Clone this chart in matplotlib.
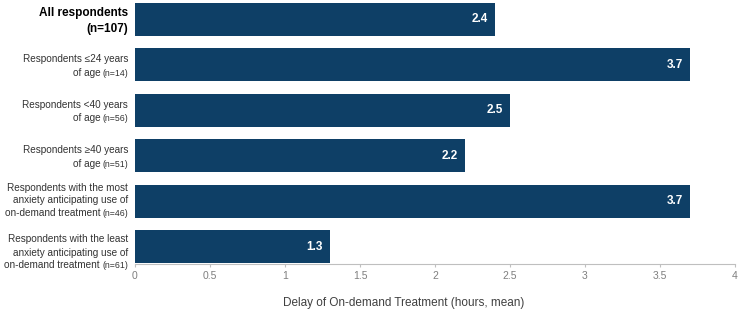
import matplotlib
matplotlib.use("Agg")
import matplotlib.pyplot as plt

plt.rcParams['font.family'] = ['Liberation Sans', 'DejaVu Sans']

label_lines = [
    ["All respondents"],
    ["Respondents ≤24 years", "of age"],
    ["Respondents <40 years", "of age"],
    ["Respondents ≥40 years", "of age"],
    ["Respondents with the most", "anxiety anticipating use of", "on-demand treatment"],
    ["Respondents with the least", "anxiety anticipating use of", "on-demand treatment"],
]
n_labels = ["(n=107)", "(n=14)", "(n=56)", "(n=51)", "(n=46)", "(n=61)"]
values = [2.4, 3.7, 2.5, 2.2, 3.7, 1.3]
xticks = [0, 0.5, 1, 1.5, 2, 2.5, 3, 3.5, 4]
xtick_labels = ["0", "0.5", "1", "1.5", "2", "2.5", "3", "3.5", "4"]
xlabel = "Delay of On-demand Treatment (hours, mean)"

# vertical baseline offsets (points) of each label's lines, relative to bar centre
line_offsets = [
    [2.5, -9],
    [1.9, -8.1],
    [1.9, -8.1],
    [1.9, -8.1],
    [7.6, -1.4, -10.8],
    [3.2, -6.6, -15.5],
]

bar_color = "#0E3F66"
grey = "#7F7F7F"
text_col = "#333333"

fig = plt.figure(figsize=(7.44, 3.14), dpi=100)
ax = fig.add_axes([135/744, 1 - 264/314, 600/744, 264/314])

pos = list(range(len(values)))
ax.barh(pos, values, height=0.72, color=bar_color)
ax.set_xlim(0, 4)
ax.set_ylim(5.38, -0.42)
ax.set_xticks(xticks)
ax.set_xticklabels(xtick_labels, fontsize=7.5, color=grey)
ax.set_yticks([])
for s in ["top", "right", "left"]:
    ax.spines[s].set_visible(False)
ax.spines["bottom"].set_color("#BFBFBF")
ax.tick_params(axis="x", length=2.5, color="#BFBFBF", pad=2.5)
ax.set_xlabel(xlabel, fontsize=8.5, color="#404040", labelpad=11)
ax.xaxis.set_label_coords((404 - 135) / 600, -0.1, transform=ax.transAxes)
ax.xaxis.label.set_va("center")
ax.xaxis.set_label_coords((404 - 135) / 600, -(303 - 264) / 264)

for p, v in zip(pos, values):
    ax.annotate(f"{v:.1f}", xy=(v, p), xycoords="data", xytext=(-5, 0),
                textcoords="offset points", ha="right", va="center",
                color="white", fontsize=8.5, fontweight="bold")

ytr = ax.get_yaxis_transform()
main_fs = 7.2
n_fs = 6.3
for p, lines, n, offs in zip(pos, label_lines, n_labels, line_offsets):
    if p == 0:
        ax.annotate(lines[0], xy=(0, p), xycoords=ytr, xytext=(-5, offs[0]),
                    textcoords="offset points", ha="right", va="baseline",
                    fontsize=8.5, fontweight="bold", color="#000000")
        ax.annotate(n, xy=(0, p), xycoords=ytr, xytext=(-5, offs[1]),
                    textcoords="offset points", ha="right", va="baseline",
                    fontsize=8.5, fontweight="bold", color="#000000")
        continue
    for line, off in zip(lines[:-1], offs[:-1]):
        ax.annotate(line, xy=(0, p), xycoords=ytr, xytext=(-5, off),
                    textcoords="offset points", ha="right", va="baseline",
                    fontsize=main_fs, color=text_col)
    n_art = ax.annotate(n, xy=(0, p), xycoords=ytr, xytext=(-5, offs[-1]),
                        textcoords="offset points", ha="right", va="baseline",
                        fontsize=n_fs, color=text_col)
    ax.annotate(lines[-1], xy=(0, p), xycoords=(n_art, ytr), xytext=(-1.5, offs[-1]),
                textcoords="offset points", ha="right", va="baseline",
                fontsize=main_fs, color=text_col)

fig.savefig("out.png", dpi=100)
